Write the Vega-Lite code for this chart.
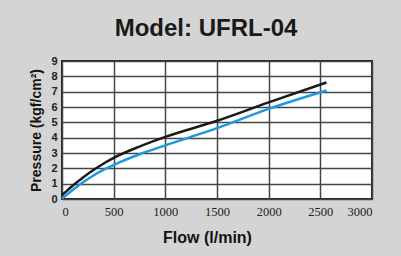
{
  "$schema": "https://vega.github.io/schema/vega-lite/v6.json",
  "width": 310,
  "height": 138,
  "autosize": {"type": "none"},
  "padding": {"left": 62, "top": 61, "right": 29, "bottom": 57},
  "background": "#d4d4d4",
  "title": {
    "text": "Model: UFRL-04",
    "font": "Liberation Sans",
    "fontSize": 24,
    "fontWeight": "bold",
    "color": "#1a1a1a",
    "anchor": "middle",
    "dx": -11,
    "offset": 14
  },
  "config": {
    "view": {"fill": "white", "stroke": "#222", "strokeWidth": 2},
    "axis": {"gridColor": "#444", "gridWidth": 1.5, "gridOpacity": 1, "ticks": false, "domain": false, "labelColor": "#222", "titleColor": "#111"}
  },
  "data": {
    "values": [
      {"flow": 0, "pressure": 0.25, "series": "A"},
      {"flow": 50, "pressure": 0.55, "series": "A"},
      {"flow": 100, "pressure": 0.85, "series": "A"},
      {"flow": 200, "pressure": 1.38, "series": "A"},
      {"flow": 300, "pressure": 1.87, "series": "A"},
      {"flow": 400, "pressure": 2.3, "series": "A"},
      {"flow": 500, "pressure": 2.68, "series": "A"},
      {"flow": 750, "pressure": 3.42, "series": "A"},
      {"flow": 1000, "pressure": 4.05, "series": "A"},
      {"flow": 1500, "pressure": 5.1, "series": "A"},
      {"flow": 2000, "pressure": 6.3, "series": "A"},
      {"flow": 2560, "pressure": 7.6, "series": "A"},
      {"flow": 0, "pressure": 0.02, "series": "B"},
      {"flow": 50, "pressure": 0.3, "series": "B"},
      {"flow": 100, "pressure": 0.57, "series": "B"},
      {"flow": 200, "pressure": 1.07, "series": "B"},
      {"flow": 300, "pressure": 1.52, "series": "B"},
      {"flow": 400, "pressure": 1.9, "series": "B"},
      {"flow": 500, "pressure": 2.22, "series": "B"},
      {"flow": 750, "pressure": 2.92, "series": "B"},
      {"flow": 1000, "pressure": 3.5, "series": "B"},
      {"flow": 1500, "pressure": 4.62, "series": "B"},
      {"flow": 2000, "pressure": 5.88, "series": "B"},
      {"flow": 2560, "pressure": 7.08, "series": "B"}
    ]
  },
  "mark": {"type": "line", "strokeWidth": 2.5, "interpolate": "monotone"},
  "encoding": {
    "x": {
      "field": "flow", "type": "quantitative",
      "scale": {"domain": [0, 3000], "nice": false},
      "axis": {"values": [0, 500, 1000, 1500, 2000, 2500, 3000], "format": "d", "labelFont": "Liberation Sans Narrow", "labelFontSize": 12.5, "labelPadding": 6, "title": "Flow (l/min)", "titleFont": "Liberation Sans", "titleFontSize": 16, "titleFontWeight": "bold", "titleX": 145, "titlePadding": 12}
    },
    "y": {
      "field": "pressure", "type": "quantitative",
      "scale": {"domain": [0, 9], "nice": false},
      "axis": {"values": [0,1,2,3,4,5,6,7,8,9], "labelFont": "Liberation Sans", "labelFontSize": 11, "labelFontWeight": "bold", "labelPadding": 5, "title": "Pressure (kgf/cm²)", "titleFont": "Liberation Sans", "titleFontSize": 14, "titleFontWeight": "bold", "titlePadding": 7}
    },
    "color": {
      "field": "series", "type": "nominal",
      "scale": {"domain": ["A", "B"], "range": ["#1a1a1a", "#1a9ae0"]},
      "legend": null
    }
  }
}
